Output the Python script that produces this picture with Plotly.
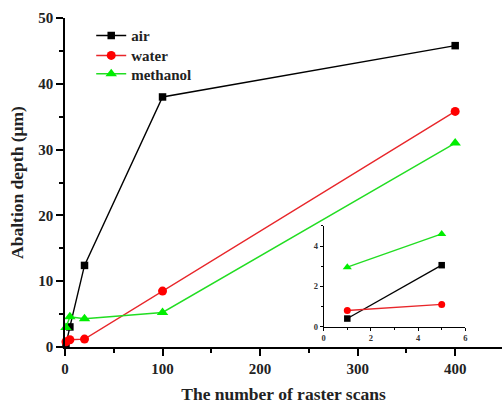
import plotly.graph_objects as go

scans = [1, 5, 20, 100, 400]
air = [0.4, 3.05, 12.4, 38.0, 45.8]
water = [0.8, 1.1, 1.2, 8.5, 35.8]
methanol = [2.95, 4.6, 4.3, 5.25, 31.0]

inset_scans = [1, 5]
inset_air = [0.4, 3.05]
inset_water = [0.8, 1.1]
inset_methanol = [2.95, 4.6]

names = ["air", "water", "methanol"]
line_colors = ["#000000", "#e8262a", "#22dd22"]
marker_colors = ["#000000", "#ff0000", "#00ee00"]
symbols = ["square", "circle", "triangle-up"]
sizes = [7.5, 9, 10]
inset_sizes = [6.5, 7, 8]
legend_ids = ["legend", "legend2", "legend3"]
legend_y = [0.9964, 0.9356, 0.8799]

FONT = "Liberation Serif, Times New Roman, serif"
TXT = "#222222"

fig = go.Figure()
for i, ys in enumerate([air, water, methanol]):
    fig.add_trace(go.Scatter(
        x=scans, y=ys, name="<b>" + names[i] + "</b>", mode="lines+markers",
        line=dict(color=line_colors[i], width=1.4),
        marker=dict(symbol=symbols[i], color=marker_colors[i], size=sizes[i]),
        cliponaxis=False, legend=legend_ids[i],
    ))
for i, ys in enumerate([inset_air, inset_water, inset_methanol]):
    fig.add_trace(go.Scatter(
        x=inset_scans, y=ys, name=names[i], mode="lines+markers", showlegend=False,
        line=dict(color=line_colors[i], width=1.3),
        marker=dict(symbol=symbols[i], color=marker_colors[i], size=inset_sizes[i]),
        xaxis="x2", yaxis="y2", cliponaxis=False,
    ))

axis_common = dict(showline=True, linecolor="black", linewidth=1.5, ticks="outside",
                   tickcolor="black", tickwidth=1.5, showgrid=False, zeroline=False)
inset_common = dict(showline=True, linecolor="black", linewidth=1, ticks="outside",
                    tickcolor="black", tickwidth=1, showgrid=False, zeroline=False,
                    tickfont=dict(size=8.5, family=FONT, color="#333", weight="bold"))

legend_common = dict(x=0.06, xanchor="left", yanchor="top", bgcolor="rgba(0,0,0,0)",
                     font=dict(size=15, family=FONT, color=TXT))

fig.update_layout(
    width=504, height=404,
    margin=dict(l=65, r=0, t=18, b=57),
    paper_bgcolor="white", plot_bgcolor="white",
    font=dict(family=FONT, color=TXT),
    xaxis=dict(range=[0, 448], tickvals=[0, 100, 200, 300, 400], ticklen=7,
               minor=dict(tickvals=[50, 150, 250, 350], ticklen=4, ticks="outside", tickcolor="black"),
               tickfont=dict(size=15, family=FONT, color=TXT, weight="bold"),
               title=dict(text="<b>The number of raster scans</b>", font=dict(size=17.5, family=FONT, color=TXT), standoff=14),
               **axis_common),
    yaxis=dict(range=[0, 50], tickvals=[0, 10, 20, 30, 40, 50], ticklen=7,
               minor=dict(tickvals=[5, 15, 25, 35, 45], ticklen=4, ticks="outside", tickcolor="black"),
               tickfont=dict(size=15, family=FONT, color=TXT, weight="bold"),
               title=dict(text="<b>Abaltion depth (μm)</b>", font=dict(size=17.5, family=FONT, color=TXT), standoff=10),
               **axis_common),
    xaxis2=dict(domain=[0.592, 0.916], anchor="y2", range=[0, 6], tickvals=[0, 2, 4, 6], ticklen=3,
                minor=dict(tickvals=[1, 3, 5], ticklen=2, ticks="outside", tickcolor="black"),
                **inset_common),
    yaxis2=dict(domain=[0.062, 0.368], anchor="x2", range=[0, 5], tickvals=[0, 2, 4], ticklen=3,
                minor=dict(tickvals=[1, 3, 5], ticklen=2, ticks="outside", tickcolor="black"),
                **inset_common),
    legend=dict(y=legend_y[0], **legend_common),
    legend2=dict(y=legend_y[1], **legend_common),
    legend3=dict(y=legend_y[2], **legend_common),
    showlegend=True,
)

fig.write_html("out.html")
